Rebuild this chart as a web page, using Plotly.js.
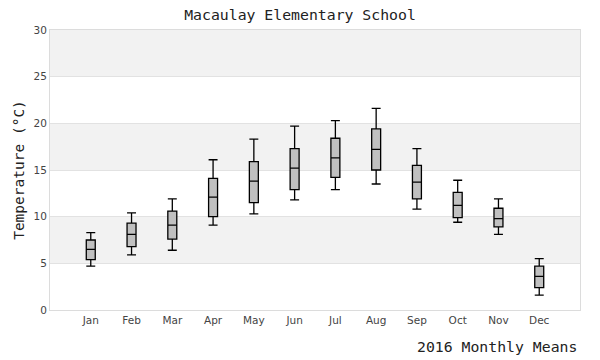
<!DOCTYPE html>
<html>
<head>
<meta charset="utf-8">
<script src="https://cdn.plot.ly/plotly-3.0.1.min.js"></script>
<style>html,body{margin:0;padding:0;background:#fff;}#chart{width:600px;height:360px;}</style>
</head>
<body>
<div id="chart"></div>
<script>
const months = ["Jan","Feb","Mar","Apr","May","Jun","Jul","Aug","Sep","Oct","Nov","Dec"];
const lowerWhisker = [4.7, 5.9, 6.4, 9.1, 10.3, 11.8, 12.9, 13.5, 10.8, 9.4, 8.1, 1.6];
const q1Values     = [5.4, 6.8, 7.6, 10.0, 11.5, 12.9, 14.2, 15.0, 11.9, 9.9, 8.9, 2.4];
const medianValues = [6.5, 8.1, 9.1, 12.1, 13.8, 15.2, 16.3, 17.2, 13.7, 11.2, 9.8, 3.6];
const q3Values     = [7.5, 9.3, 10.6, 14.1, 15.9, 17.3, 18.4, 19.4, 15.5, 12.6, 10.9, 4.7];
const upperWhisker = [8.3, 10.4, 11.9, 16.1, 18.3, 19.7, 20.3, 21.6, 17.3, 13.9, 11.9, 5.5];
const yTicks = [0, 5, 10, 15, 20, 25, 30];

const mono = "DejaVu Sans Mono, monospace";
const sans = "DejaVu Sans, Verdana, sans-serif";

const trace = {
  type: "box",
  x: months,
  q1: q1Values,
  median: medianValues,
  q3: q3Values,
  lowerfence: lowerWhisker,
  upperfence: upperWhisker,
  boxpoints: false,
  width: 0.22,
  whiskerwidth: 1,
  fillcolor: "#c0c0c0",
  line: {color: "#000", width: 1.3},
  hoverinfo: "skip",
  showlegend: false
};

// alternating background bands between tick pairs
const shapes = [];
for (let i = 1; i < yTicks.length; i += 2) {
  shapes.push({
    type: "rect", xref: "paper", yref: "y", layer: "below",
    x0: 0, x1: 1, y0: yTicks[i], y1: yTicks[i + 1],
    fillcolor: "#f2f2f2", line: {width: 0}
  });
}

const layout = {
  width: 600, height: 360,
  margin: {l: 50, r: 20, t: 30, b: 50},
  paper_bgcolor: "#fff",
  plot_bgcolor: "#fff",
  title: {text: "Macaulay Elementary School", x: 0.5, xref: "container", xanchor: "center", y: 0.958, yanchor: "middle",
          font: {family: mono, size: 14.8, color: "#222"}},
  xaxis: {
    type: "category", range: [-1, 12],
    showgrid: false, zeroline: false,
    showline: true, mirror: true, linecolor: "#dcdcdc", linewidth: 1,
    ticks: "", tickfont: {family: sans, size: 10.5, color: "#444"},
    fixedrange: true
  },
  yaxis: {
    range: [0, 30], tickvals: yTicks,
    showgrid: true, gridcolor: "#e2e2e2", gridwidth: 1,
    zeroline: false,
    showline: true, mirror: true, linecolor: "#dcdcdc", linewidth: 1,
    ticks: "", ticklabelstandoff: 0,
    tickfont: {family: sans, size: 10.5, color: "#444"},
    title: {text: "Temperature (°C)", standoff: 5, font: {family: mono, size: 14.5, color: "#222"}},
    fixedrange: true
  },
  shapes: shapes,
  annotations: [{
    text: "2016 Monthly Means", xref: "paper", yref: "paper",
    x: 0.998, xanchor: "right", y: -0.131, yanchor: "middle", showarrow: false,
    font: {family: mono, size: 14.8, color: "#222"}
  }]
};

Plotly.newPlot("chart", [trace], layout, {displayModeBar: false, staticPlot: true});
</script>
</body>
</html>
